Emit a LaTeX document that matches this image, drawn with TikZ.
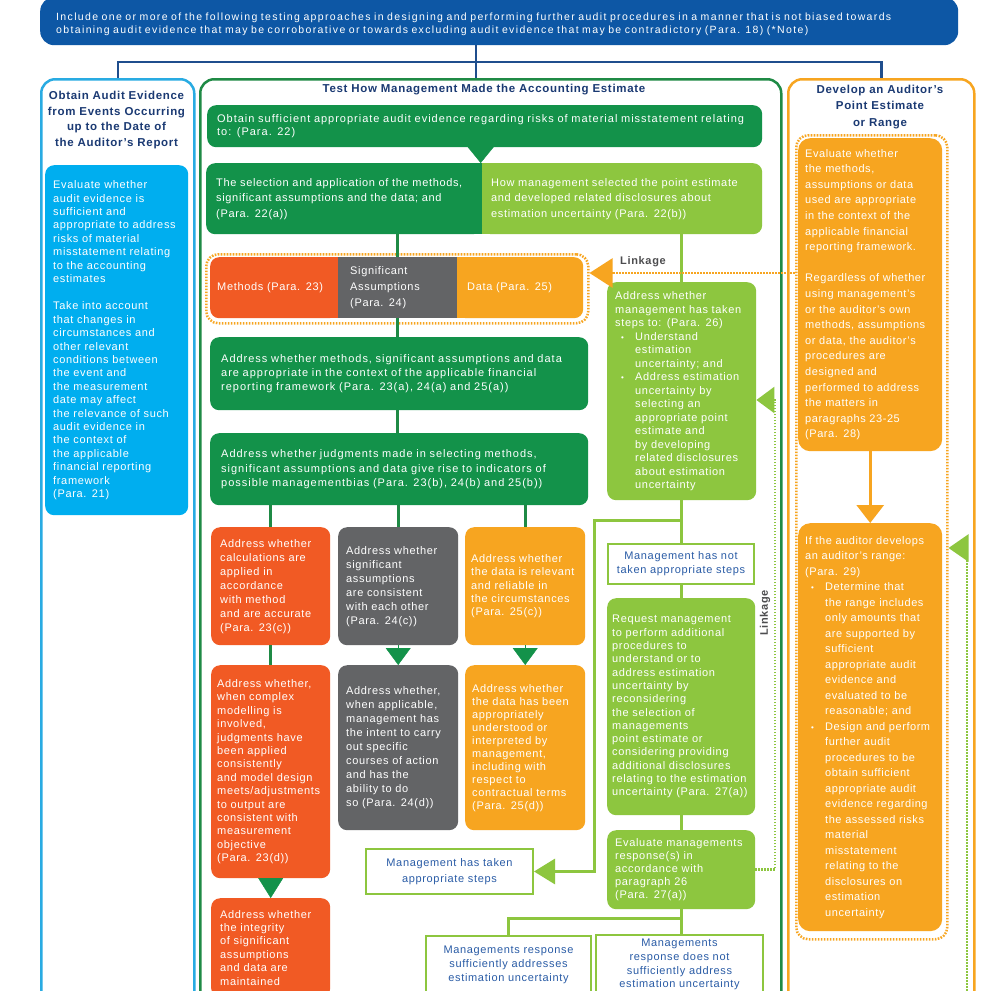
\documentclass[tikz,border=0pt]{standalone}
\usepackage{fontspec}
\setmainfont{Liberation Sans}[LetterSpace=6]
\usetikzlibrary{arrows.meta}
\definecolor{bannerblue}{HTML}{0D57A5}
\definecolor{titleblue}{HTML}{1B3A73}
\definecolor{linkblue}{HTML}{1F4E8D}
\definecolor{skyline}{HTML}{29ABE2}
\definecolor{cyanfill}{HTML}{00AEEF}
\definecolor{dkgreen}{HTML}{13924A}
\definecolor{frgreen}{HTML}{1F8A45}
\definecolor{ltgreen}{HTML}{8DC63F}
\definecolor{redorg}{HTML}{F15A24}
\definecolor{slate}{HTML}{636466}
\definecolor{amber}{HTML}{F7A520}
\definecolor{boxtext}{HTML}{2A5CA6}
\definecolor{linkgray}{HTML}{4D4D4F}
\hyphenpenalty=10000
\exhyphenpenalty=10000
\newcommand{\bul}{\makebox[20pt][l]{\hspace{6pt}{\footnotesize\textbullet}}}
\newcommand{\ind}{\hspace*{20pt}}
\newcommand{\txt}[1]{\fontsize{11}{#1}\selectfont}
\tikzset{
  box/.style={anchor=north west, rounded corners=9pt, inner xsep=8pt, inner ysep=2pt, align=left, text=white, font=\txt{13.4}},
  frame/.style={anchor=north west, draw=#1, line width=2.5pt, rounded corners=14pt, inner sep=0pt},
  plain/.style={anchor=north west, draw=ltgreen, line width=2pt, fill=white, align=center, text=boxtext, inner sep=0pt, font=\txt{14}},
  heading/.style={align=center, text=titleblue, font=\bfseries\fontsize{11.5}{15.8}\selectfont},
  dotframe/.style={anchor=north west, draw=#1, line width=2.5pt, dash pattern=on 1.6pt off 1.4pt, rounded corners=12pt, inner sep=0pt},
  dkline/.style={frgreen, line width=3pt},
  ltline/.style={ltgreen, line width=3pt},
  linkage/.style={#1, line width=2.5pt, dash pattern=on 1.6pt off 1.4pt},
  tri/.style 2 args={-{Triangle[length=#1, width=#2]}},
  linklabel/.style={text=linkgray, font=\bfseries\fontsize{11}{12}\selectfont}
}
\begin{document}
\begin{tikzpicture}[x=1pt, y=-1pt]
  \useasboundingbox (0, 0) rectangle (991, 991);
  \fill[white] (0, 0) rectangle (991, 991);

  \node[box, fill=bannerblue, rounded corners=14pt, inner xsep=16pt, text width=886pt, minimum height=48pt,
    font={\fontsize{10.5}{12.5}\selectfont\addfontfeatures{LetterSpace=13}}] (note) at (40, -3)
    {\rule{0pt}{14pt}Include one or more of the following testing approaches in designing and performing further audit procedures in a manner that is not biased towards\\
     obtaining audit evidence that may be corroborative or towards excluding audit evidence that may be contradictory (Para. 18) (*Note)};

  \node[frame=skyline, minimum width=153pt, minimum height=960pt] (evid) at (40, 78) {};
  \node[frame=frgreen, minimum width=581pt, minimum height=960pt] (test) at (199, 78) {};
  \node[frame=amber, minimum width=186pt, minimum height=960pt] (point) at (787, 78) {};

  \coordinate (fork) at (476, 62);
  \draw[linkblue, line width=2.5pt] (note.south -| fork) -- (fork |- test.north);
  \draw[linkblue, line width=2.5pt] (evid.north) |- (fork) -| (point.north);

  \node[heading] (evidtitle) at (116.5, 120) {Obtain Audit Evidence\\from Events Occurring\\up to the Date of\\the Auditor's Report};
  \node[heading] (testtitle) at (484, 90) {Test How Management Made the Accounting Estimate};
  \node[heading, font=\bfseries\fontsize{11.5}{16.3}\selectfont] (pointtitle) at (880, 107) {Develop an Auditor's\\Point Estimate\\or Range};

  \node[box, fill=cyanfill, inner xsep=8pt, text width=127pt, minimum height=350pt] (evalevid) at (45, 165)
    {Evaluate whether\\audit evidence is\\sufficient and\\appropriate to address\\risks of material\\misstatement relating\\to the accounting\\estimates\\[14pt]
     Take into account\\that changes in\\circumstances and\\other relevant\\conditions between\\the event and\\the measurement\\date may affect\\the relevance of such\\audit evidence in\\the context of\\the applicable\\financial reporting\\framework\\(Para. 21)};

  \node[box, fill=dkgreen, inner xsep=10pt, text width=535pt, minimum height=42pt, font={\txt{13.4}\addfontfeatures{LetterSpace=9}}] (obtain) at (207, 105)
    {Obtain sufficient appropriate audit evidence regarding risks of material misstatement relating\\to: (Para. 22)};

  \fill[dkgreen] (470, 163) rectangle (482, 234);
  \fill[ltgreen] (482, 163) rectangle (494, 234);
  \node[box, fill=dkgreen, inner xsep=10pt, text width=256pt, minimum height=71pt, font=\txt{15.5}] (selection) at (206, 163)
    {The selection and application of the methods,\\significant assumptions and the data; and\\(Para. 22(a))};
  \node[box, fill=ltgreen, inner xsep=9pt, text width=262pt, minimum height=71pt, font=\txt{15.5}] (howmgmt) at (482, 163)
    {How management selected the point estimate\\and developed related disclosures about\\estimation uncertainty (Para. 22(b))};

  \node[dotframe=amber, minimum width=382pt, minimum height=69pt] (linkgrp) at (205, 253) {};
  \fill[redorg] (326, 257) rectangle (338, 318);
  \fill[amber] (457, 257) rectangle (469, 318);
  \node[box, fill=redorg, inner xsep=7pt, text width=114pt, minimum height=61pt] (methods) at (210, 257) {Methods (Para. 23)};
  \node[box, fill=slate, sharp corners, inner xsep=12pt, text width=95pt, minimum height=61pt, font=\txt{16}] (assum) at (338, 257)
    {Significant\\Assumptions\\(Para. 24)};
  \node[box, fill=amber, inner xsep=10pt, text width=106pt, minimum height=61pt] (data) at (457, 257) {Data (Para. 25)};

  \node[box, fill=dkgreen, inner xsep=11pt, text width=356pt, minimum height=73pt, font={\txt{14}\addfontfeatures{LetterSpace=9}}] (approp) at (210, 337)
    {Address whether methods, significant assumptions and data\\are appropriate in the context of the applicable financial\\reporting framework (Para. 23(a), 24(a) and 25(a))};
  \node[box, fill=dkgreen, inner xsep=11pt, text width=356pt, minimum height=72pt, font={\txt{14.5}\addfontfeatures{LetterSpace=9}}] (bias) at (210, 433)
    {Address whether judgments made in selecting methods,\\significant assumptions and data give rise to indicators of\\possible managementbias (Para. 23(b), 24(b) and 25(b))};

  \node[box, fill=redorg, inner xsep=9pt, text width=101pt, minimum height=118pt, font=\txt{14}] (calc) at (211, 527)
    {Address whether\\calculations are\\applied in\\accordance\\with method\\and are accurate\\(Para. 23(c))};
  \node[box, fill=slate, inner xsep=8pt, text width=104pt, minimum height=118pt, font=\txt{14}] (consist) at (338, 527)
    {Address whether\\significant\\assumptions\\are consistent\\with each other\\(Para. 24(c))};
  \node[box, fill=amber, inner xsep=6pt, text width=108pt, minimum height=118pt] (relev) at (465, 527)
    {Address whether\\the data is relevant\\and reliable in\\the circumstances\\(Para. 25(c))};

  \node[box, fill=redorg, inner xsep=6pt, text width=107pt, minimum height=213pt] (model) at (211, 665)
    {Address whether,\\when complex\\modelling is\\involved,\\judgments have\\been applied\\consistently\\ and model design\\meets/adjustments\\to output are\\consistent with\\measurement\\objective\\(Para. 23(d))};
  \node[box, fill=slate, inner xsep=8pt, text width=104pt, minimum height=165pt, font=\txt{14}] (intent) at (338, 665)
    {Address whether,\\when applicable,\\management has\\the intent to carry\\out specific\\courses of action\\and has the\\ability to do\\so (Para. 24(d))};
  \node[box, fill=amber, inner xsep=7pt, text width=106pt, minimum height=165pt, font=\txt{13}] (interp) at (465, 665)
    {Address whether\\the data has been\\appropriately\\understood or\\interpreted by\\management,\\including with\\respect to\\contractual terms\\(Para. 25(d))};
  \node[box, fill=redorg, inner xsep=9pt, inner ysep=12pt, text width=101pt] (integ) at (211, 898)
    {Address whether\\the integrity\\of significant\\assumptions\\and data are\\maintained};

  \node[box, fill=ltgreen, inner xsep=8pt, text width=133pt, minimum height=218pt, font=\txt{13.5}] (steps) at (607, 282)
    {Address whether\\management has taken\\steps to: (Para. 26)\\
     \bul Understand\\\ind estimation\\\ind uncertainty; and\\
     \bul Address estimation\\\ind uncertainty by\\\ind selecting an\\\ind appropriate point\\\ind estimate and\\\ind by developing\\\ind related disclosures\\\ind about estimation\\\ind uncertainty};
  \node[plain, minimum width=146pt, minimum height=40pt] (notsteps) at (607, 543) {Management has not\\taken appropriate steps};
  \node[box, fill=ltgreen, inner xsep=5pt, text width=138pt, minimum height=217pt, font=\txt{13.3}] (request) at (607, 598)
    {Request management\\to perform additional\\procedures to\\understand or to\\address estimation\\uncertainty by\\reconsidering\\the selection of\\managements\\point estimate or\\considering providing\\additional disclosures\\relating to the estimation\\uncertainty (Para. 27(a))};
  \node[box, fill=ltgreen, inner xsep=8pt, text width=132pt, minimum height=79pt, font=\txt{13}] (evalresp) at (607, 830)
    {Evaluate managements\\response(s) in\\accordance with\\paragraph 26\\(Para. 27(a))};
  \node[plain, minimum width=167pt, minimum height=45pt, font=\txt{15.5}] (taken) at (365, 848) {Management has taken\\appropriate steps};
  \node[plain, minimum width=165pt, minimum height=58pt] (suff) at (425, 935)
    {Managements response\\sufficiently addresses\\estimation uncertainty};
  \node[plain, minimum width=167pt, minimum height=59pt, font=\txt{13.7}] (notsuff) at (595, 934)
    {Managements\\response does not\\sufficiently address\\estimation uncertainty};

  \node[dotframe=amber, minimum width=151pt, minimum height=804pt] (orgdot) at (795, 134) {};
  \node[box, fill=amber, rounded corners=12pt, inner xsep=7pt, text width=130pt, minimum height=313pt, font={\txt{15.6}\addfontfeatures{LetterSpace=5}}] (evalmeth) at (798, 138)
    {Evaluate whether\\the methods,\\assumptions or data\\used are appropriate\\in the context of the\\applicable financial\\reporting framework.\\[15.6pt]
     Regardless of whether\\using management's\\or the auditor's own\\methods, assumptions\\or data, the auditor's\\procedures are\\designed and\\performed to address\\the matters in\\paragraphs 23-25\\(Para. 28)};
  \node[box, fill=amber, rounded corners=12pt, inner xsep=7pt, text width=130pt, minimum height=408pt, font={\txt{15.5}\addfontfeatures{LetterSpace=5}}] (range) at (798, 523)
    {If the auditor develops\\an auditor's range:\\(Para. 29)\\
     \bul Determine that\\\ind the range includes\\\ind only amounts that\\\ind are supported by\\\ind sufficient\\\ind appropriate audit\\\ind evidence and\\\ind evaluated to be\\\ind reasonable; and\\
     \bul Design and perform\\\ind further audit\\\ind procedures to be\\\ind obtain sufficient\\\ind appropriate audit\\\ind evidence regarding\\\ind the assessed risks\\\ind material\\\ind misstatement\\\ind relating to the\\\ind disclosures on\\\ind estimation\\\ind uncertainty};

  \draw[dkgreen, tri={16pt}{26pt}] ([xshift=-4pt]obtain.south) -- ([xshift=-4pt]obtain.south |- selection.north);
  \draw[dkline] (selection.south -| assum.north) -- (assum.north);
  \draw[dkline] (assum.south) -- (assum.south |- approp.north);
  \draw[dkline] (approp.south -| assum.south) -- (bias.north -| assum.south);
  \draw[dkline] (bias.south -| calc.north) -- (calc.north);
  \draw[dkline] (bias.south -| consist.north) -- (consist.north);
  \draw[dkline] (bias.south -| relev.north) -- (relev.north);
  \draw[dkline] (calc.south) -- (model.north);
  \draw[dkgreen, tri={17pt}{25pt}] (consist.south) -- (intent.north);
  \draw[dkgreen, tri={17pt}{25pt}] (relev.south) -- (interp.north);
  \draw[dkgreen, tri={20pt}{25pt}] (model.south) -- (integ.north);

  \coordinate (branch) at (594, 520);
  \draw[ltline] (howmgmt.south -| steps.north) -- (steps.north);
  \draw[ltline] (steps.south) -- (steps.south |- notsteps.north);
  \draw[ltline, tri={21pt}{25pt}] (steps.south) |- (branch) |- (taken.east);
  \draw[ltline] (notsteps.south) -- (notsteps.south |- request.north);
  \draw[ltline] (request.south) -- (evalresp.north);
  \draw[ltline] (evalresp.south) -- ++(0, 9) -| (suff.north);
  \draw[ltline] (evalresp.south) -- (evalresp.south |- notsuff.north);

  \draw[amber, line width=3pt, tri={18pt}{27pt}] (evalmeth.south) -- (range.north);

  \coordinate (lk) at (700, 273);
  \draw[linkage=amber, tri={23pt}{29pt}] (orgdot.west |- lk) -- (linkgrp.east |- lk);
  \node[linklabel] (linklbl) at (643, 262) {Linkage};

  \coordinate (lk2) at (775, 400);
  \draw[linkage=ltgreen, tri={18pt}{26pt}] (evalresp.east) -| (lk2) -- (steps.east |- lk2);
  \node[linklabel, rotate=90] (linklbl2) at (765, 613) {Linkage};

  \coordinate (rk) at (967, 548);
  \coordinate (rkbot) at (967, 1000);
  \draw[linkage=ltgreen, tri={20pt}{27pt}] (rkbot) -- (rk) -- (orgdot.east |- rk);
\end{tikzpicture}
\end{document}
